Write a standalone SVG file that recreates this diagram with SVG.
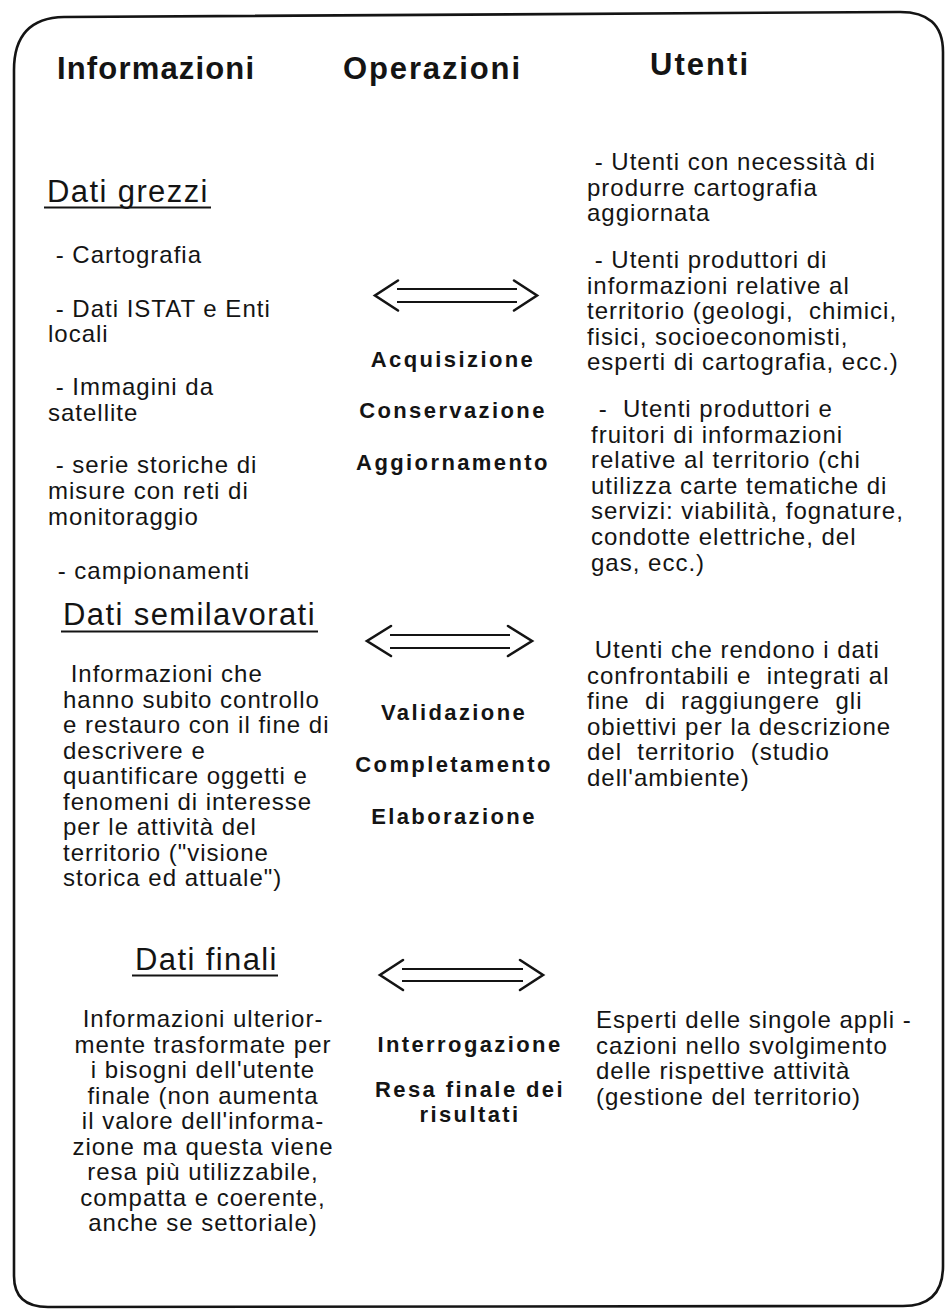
<svg xmlns="http://www.w3.org/2000/svg" width="947" height="1315" viewBox="0 0 947 1315">
  <style>
    text { font-family: "Liberation Sans", Arial, Helvetica, sans-serif; fill: #141414; white-space: pre; }
    .hdr { font-size: 31px; font-weight: bold; }
    .sec { font-size: 31px; letter-spacing: 1.4px; }
    .body { font-size: 24px; letter-spacing: 1px; }
    .mid { text-anchor: middle; }
    .op { font-size: 22px; font-weight: bold; letter-spacing: 2.4px; text-anchor: middle; }
    .ul { stroke: #141414; stroke-width: 2; }
    .frame { fill: none; stroke: #141414; stroke-width: 2.6; }
    .chev { fill: none; stroke: #141414; stroke-width: 2.6; stroke-linecap: round; stroke-linejoin: miter; }
    .shaft { stroke: #141414; stroke-width: 2; }
  </style>

  <rect width="947" height="1315" fill="#ffffff"/>

  <!-- outer rounded frame -->
  <path class="frame" d="M 14 70 Q 14 18 64 17 L 898 12 Q 943 11 943 52 L 943 1266 Q 943 1306 903 1306 L 48 1307 Q 14 1307 14 1276 Z"/>

  <!-- column headings -->
  <g id="headings">
    <text class="hdr" x="57" y="79" textLength="197" lengthAdjust="spacing">Informazioni</text>
    <text class="hdr" x="343" y="79" textLength="177" lengthAdjust="spacing">Operazioni</text>
    <text class="hdr" x="650" y="75" textLength="98" lengthAdjust="spacing">Utenti</text>
  </g>

  <!-- information levels -->
  <g id="info-grezzi">
    <text class="sec" x="47" y="202">Dati grezzi</text>
    <line class="ul" x1="44" y1="207.5" x2="211" y2="207.5"/>
    <text class="body" xml:space="preserve" x="48" y="263"> - Cartografia</text>
    <text class="body" xml:space="preserve" x="48" y="317"> - Dati ISTAT e Enti</text>
    <text class="body" x="48" y="342">locali</text>
    <text class="body" xml:space="preserve" x="48" y="395"> - Immagini da</text>
    <text class="body" x="48" y="421">satellite</text>
    <text class="body" xml:space="preserve" x="48" y="473"> - serie storiche di</text>
    <text class="body" x="48" y="499">misure con reti di</text>
    <text class="body" x="48" y="525">monitoraggio</text>
    <text class="body" xml:space="preserve" x="50" y="579"> - campionamenti</text>
  </g>

  <g id="info-semilavorati">
    <text class="sec" x="63" y="625">Dati semilavorati</text>
    <line class="ul" x1="61" y1="631.5" x2="318" y2="631.5"/>
    <text class="body" xml:space="preserve" x="63" y="682"> Informazioni che</text>
    <text class="body" x="63" y="707.5">hanno subito controllo</text>
    <text class="body" x="63" y="733">e restauro con il fine di</text>
    <text class="body" x="63" y="758.5">descrivere e</text>
    <text class="body" x="63" y="784">quantificare oggetti e</text>
    <text class="body" x="63" y="809.5">fenomeni di interesse</text>
    <text class="body" x="63" y="835">per le attività del</text>
    <text class="body" x="63" y="860.5">territorio (&quot;visione</text>
    <text class="body" x="63" y="886">storica ed attuale&quot;)</text>
  </g>

  <g id="info-finali">
    <text class="sec" x="135" y="970">Dati finali</text>
    <line class="ul" x1="132" y1="975.5" x2="278" y2="975.5"/>
    <text class="body mid" x="203" y="1027">Informazioni ulterior-</text>
    <text class="body mid" x="203" y="1052.5">mente trasformate per</text>
    <text class="body mid" x="203" y="1078">i bisogni dell'utente</text>
    <text class="body mid" x="203" y="1103.5">finale (non aumenta</text>
    <text class="body mid" x="203" y="1129">il valore dell'informa-</text>
    <text class="body mid" x="203" y="1154.5">zione ma questa viene</text>
    <text class="body mid" x="203" y="1180">resa più utilizzabile,</text>
    <text class="body mid" x="203" y="1205.5">compatta e coerente,</text>
    <text class="body mid" x="203" y="1231">anche se settoriale)</text>
  </g>

  <!-- operations -->
  <g id="op-grezzi">
    <text class="op" x="453" y="367">Acquisizione</text>
    <text class="op" x="453" y="418">Conservazione</text>
    <text class="op" x="453" y="470">Aggiornamento</text>
  </g>
  <g id="op-semilavorati">
    <text class="op" x="454" y="720">Validazione</text>
    <text class="op" x="454" y="772">Completamento</text>
    <text class="op" x="454" y="824">Elaborazione</text>
  </g>
  <g id="op-finali">
    <text class="op" x="470" y="1052">Interrogazione</text>
    <text class="op" x="470" y="1097">Resa finale dei</text>
    <text class="op" x="470" y="1122">risultati</text>
  </g>

  <!-- users -->
  <g id="utenti-grezzi">
    <text class="body" xml:space="preserve" x="587" y="170"> - Utenti con necessità di</text>
    <text class="body" x="587" y="195.5">produrre cartografia</text>
    <text class="body" x="587" y="221">aggiornata</text>
    <text class="body" xml:space="preserve" x="587" y="268"> - Utenti produttori di</text>
    <text class="body" x="587" y="293.5">informazioni relative al</text>
    <text class="body" xml:space="preserve" x="587" y="319">territorio (geologi,  chimici,</text>
    <text class="body" x="587" y="344.5">fisici, socioeconomisti,</text>
    <text class="body" x="587" y="370">esperti di cartografia, ecc.)</text>
    <text class="body" xml:space="preserve" x="591" y="417"> -  Utenti produttori e</text>
    <text class="body" x="591" y="443">fruitori di informazioni</text>
    <text class="body" x="591" y="468">relative al territorio (chi</text>
    <text class="body" x="591" y="494">utilizza carte tematiche di</text>
    <text class="body" x="591" y="519">servizi: viabilità, fognature,</text>
    <text class="body" x="591" y="545">condotte elettriche, del</text>
    <text class="body" x="591" y="571">gas, ecc.)</text>
  </g>

  <g id="utenti-semilavorati">
    <text class="body" xml:space="preserve" x="587" y="658"> Utenti che rendono i dati</text>
    <text class="body" xml:space="preserve" x="587" y="684">confrontabili e  integrati al</text>
    <text class="body" xml:space="preserve" x="587" y="709">fine  di  raggiungere  gli</text>
    <text class="body" x="587" y="735">obiettivi per la descrizione</text>
    <text class="body" xml:space="preserve" x="587" y="760">del  territorio  (studio</text>
    <text class="body" x="587" y="786">dell'ambiente)</text>
  </g>

  <g id="utenti-finali">
    <text class="body" x="596" y="1028">Esperti delle singole appli -</text>
    <text class="body" x="596" y="1053.5">cazioni nello svolgimento</text>
    <text class="body" x="596" y="1079">delle rispettive attività</text>
    <text class="body" x="596" y="1104.5">(gestione del territorio)</text>
  </g>

  <!-- double-headed arrows between information and users -->
  <g id="connectors">
    <g id="arrow-grezzi">
      <polyline class="chev" points="398,280.5 375,295.5 398,310.5"/>
      <polyline class="chev" points="514,280.5 537,295.5 514,310.5"/>
      <line class="shaft" x1="397" y1="289" x2="517" y2="289"/>
      <line class="shaft" x1="397" y1="302" x2="517" y2="302"/>
    </g>
    <g id="arrow-semilavorati">
      <polyline class="chev" points="391,626 367,641 391,656"/>
      <polyline class="chev" points="508,626 532,641 508,656"/>
      <line class="shaft" x1="390" y1="635" x2="510" y2="635"/>
      <line class="shaft" x1="390" y1="648" x2="510" y2="648"/>
    </g>
    <g id="arrow-finali">
      <polyline class="chev" points="403,960 380,975 403,990"/>
      <polyline class="chev" points="520,960 543,975 520,990"/>
      <line class="shaft" x1="402" y1="969" x2="523" y2="969"/>
      <line class="shaft" x1="402" y1="981" x2="523" y2="981"/>
    </g>
  </g>
</svg>
